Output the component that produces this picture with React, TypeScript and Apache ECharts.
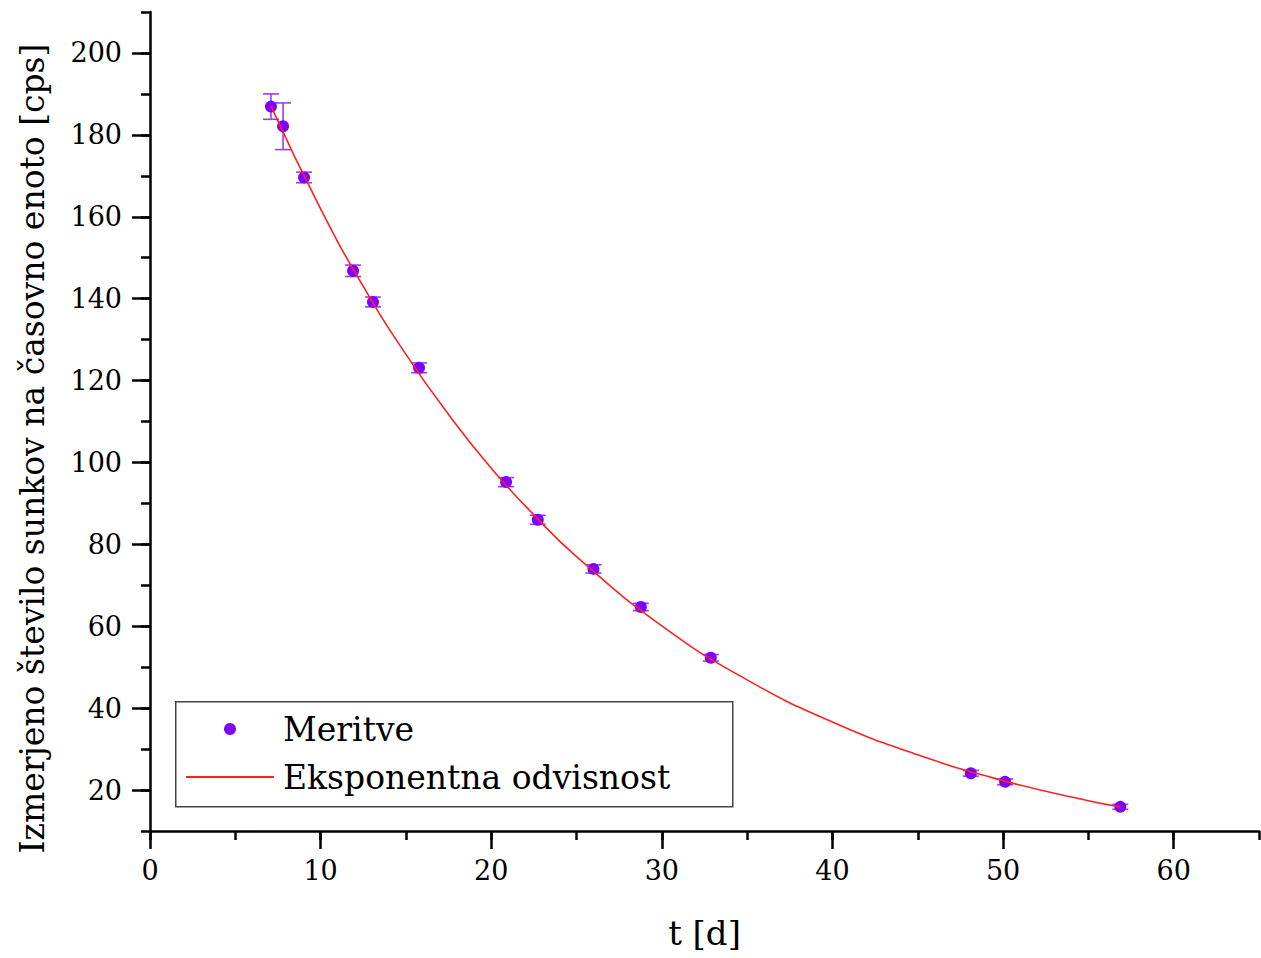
import React, { useEffect, useRef } from "react";
import * as echarts from "echarts";

const tDays = [7.09, 7.8, 9.03, 11.9, 13.07, 15.77, 20.87, 22.73, 25.99, 28.77, 32.87, 48.11, 50.12, 56.87];
const counts = [186.9, 182.1, 169.6, 146.8, 139.2, 123.1, 95.2, 86.0, 74.0, 64.7, 52.3, 24.1, 22.0, 15.9];
const errors = [3.1, 5.7, 1.3, 1.4, 1.2, 1.2, 1.1, 1.1, 1.0, 0.9, 0.8, 0.7, 0.7, 0.6];

// Fitted curve
const fitT = [7.09, 10, 12.5, 15, 17.5, 20, 22.5, 25, 30, 35, 40, 45, 50, 55, 56.87];
const fitY = [187.0, 161.9, 143.0, 126.4, 111.7, 98.6, 87.2, 77.0, 60.1, 46.9, 36.6, 28.6, 22.3, 17.4, 15.9];

// Tick labels
const xMajorTicks = [0, 10, 20, 30, 40, 50, 60];
const yMajorTicks = [20, 40, 60, 80, 100, 120, 140, 160, 180, 200];

const seriesNames = ["Meritve", "Eksponentna odvisnost"];
const xName = "t [d]";
const yName = "Izmerjeno število sunkov na časovno enoto [cps]";

const FONT = "DejaVu Serif";

export default function App() {
  const ref = useRef<HTMLDivElement>(null);
  useEffect(() => {
    if (!ref.current) return;
    const chart = echarts.init(ref.current, null, { renderer: "svg" });
    const points = tDays.map((t, i) => [t, counts[i]]);
    const errData = tDays.map((t, i) => [t, counts[i], errors[i]]);
    const fitData = fitT.map((t, i) => [t, fitY[i]]);
    const axisLineStyle = { color: "#000", width: 2.5 };
    chart.setOption({
      animation: false,
      backgroundColor: "#fff",
      textStyle: { fontFamily: FONT },
      grid: { left: 150, top: 12, right: 2, bottom: 127, containLabel: false, outerBoundsMode: "none" },
      graphic: [
        {
          type: "rect",
          left: 175,
          top: 701,
          shape: { width: 557, height: 105 },
          style: { fill: "#fff", stroke: "#444", lineWidth: 1.5 },
          z: 90,
        },
      ],
      legend: {
        data: [
          { name: seriesNames[0] },
          { name: seriesNames[1], itemStyle: { opacity: 0 } },
        ],
        orient: "vertical",
        left: 185,
        top: 709,
        itemWidth: 88,
        itemHeight: 12,
        itemGap: 8,
        padding: 0,
        z: 100,
        textStyle: { fontFamily: FONT, fontSize: 33, lineHeight: 40, color: "#000", padding: [0, 0, 0, 4] },
      },
      xAxis: [
        {
          type: "value",
          min: 0,
          max: 65,
          interval: 5,
          name: xName,
          nameLocation: "middle",
          nameGap: 85,
          nameTextStyle: { fontFamily: FONT, fontSize: 34, color: "#000" },
          axisLine: { show: true, lineStyle: axisLineStyle },
          axisTick: { show: true, length: 9, lineStyle: axisLineStyle },
          axisLabel: {
            fontFamily: FONT,
            fontSize: 27,
            color: "#000",
            margin: 26,
            formatter: (v: number) => (xMajorTicks.indexOf(v) >= 0 ? String(v) : ""),
          },
          splitLine: { show: false },
        },
        {
          type: "value",
          min: 0,
          max: 65,
          interval: 5,
          position: "bottom",
          axisLine: { show: false },
          axisTick: { show: true, length: 18, lineStyle: axisLineStyle, customValues: xMajorTicks },
          axisLabel: { show: false },
          splitLine: { show: false },
        },
      ],
      yAxis: [
        {
          type: "value",
          min: 10,
          max: 210,
          interval: 10,
          name: yName,
          nameLocation: "middle",
          nameGap: 101,
          nameTextStyle: { fontFamily: FONT, fontSize: 33, color: "#000", padding: [0, 54, 0, 0] },
          axisLine: { show: true, lineStyle: axisLineStyle },
          axisTick: { show: true, length: 9, lineStyle: axisLineStyle },
          axisLabel: {
            fontFamily: FONT,
            fontSize: 27,
            color: "#000",
            margin: 28,
            formatter: (v: number) => (yMajorTicks.indexOf(v) >= 0 ? String(v) : ""),
          },
          splitLine: { show: false },
        },
        {
          type: "value",
          min: 10,
          max: 210,
          interval: 10,
          position: "left",
          axisLine: { show: false },
          axisTick: { show: true, length: 18, lineStyle: axisLineStyle, customValues: yMajorTicks },
          axisLabel: { show: false },
          splitLine: { show: false },
        },
      ],
      series: [
        {
          name: "errors",
          type: "custom",
          xAxisIndex: 0,
          yAxisIndex: 0,
          data: errData,
          z: 2,
          renderItem: (params: any, api: any) => {
            const x = api.value(0);
            const y = api.value(1);
            const e = api.value(2);
            const top = api.coord([x, y + e]);
            const bot = api.coord([x, y - e]);
            const cap = 8;
            const style = { stroke: "#9140ff", lineWidth: 1.6 };
            return {
              type: "group",
              children: [
                { type: "line", shape: { x1: top[0], y1: top[1], x2: bot[0], y2: bot[1] }, style },
                { type: "line", shape: { x1: top[0] - cap, y1: top[1], x2: top[0] + cap, y2: top[1] }, style },
                { type: "line", shape: { x1: bot[0] - cap, y1: bot[1], x2: bot[0] + cap, y2: bot[1] }, style },
              ],
            };
          },
        },
        {
          name: seriesNames[0],
          type: "scatter",
          xAxisIndex: 0,
          yAxisIndex: 0,
          data: points,
          symbol: "circle",
          symbolSize: 12,
          itemStyle: { color: "#7f00ff", opacity: 1 },
          z: 3,
        },
        {
          name: seriesNames[1],
          type: "line",
          xAxisIndex: 0,
          yAxisIndex: 0,
          data: fitData,
          smooth: true,
          showSymbol: false,
          symbol: "none",
          lineStyle: { color: "#ff2020", width: 1.6 },
          itemStyle: { color: "#ff2020" },
          z: 4,
        },
      ],
    });
    return () => chart.dispose();
  }, []);
  return (
    <div
      ref={ref}
      style={{ position: "fixed", left: 0, top: 0, width: 1261, height: 958, background: "#fff" }}
    />
  );
}
